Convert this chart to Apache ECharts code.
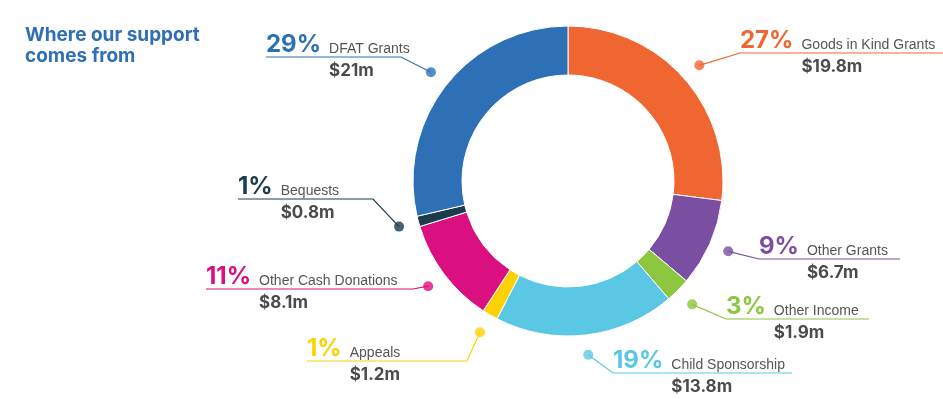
<!DOCTYPE html>
<html>
<head>
<meta charset="utf-8">
<script src="https://cdn.jsdelivr.net/npm/echarts@6/dist/echarts.min.js"></script>
<style>
  html, body { margin: 0; padding: 0; background: #fff; }
  #chart { width: 943px; height: 399px; }
</style>
</head>
<body>
<div id="chart"></div>
<script>
// slices, clockwise from 12 o'clock
const categories = ['Goods in Kind Grants', 'Other Grants', 'Other Income', 'Child Sponsorship',
  'Appeals', 'Other Cash Donations', 'Bequests', 'DFAT Grants']
const amounts = [19.8, 6.7, 1.9, 13.8, 1.2, 8.1, 0.8, 21]
const percentLabels = ['27%', '9%', '3%', '19%', '1%', '11%', '1%', '29%']

const colors = ['#f06630', '#7a4fa1', '#8dc63f', '#5ac8e5', '#fdd104', '#da0f80', '#1c3b4f', '#2d70b6']

// underline under each label: [left x, right x, y] and which side of the ring it sits
const underlines = [[740, 943, 53], [759, 900, 259], [726, 869, 319], [613, 792, 373],
  [307, 467, 361], [206, 413, 289], [238, 373, 199], [266, 401, 57]]
const sides = ['right', 'right', 'right', 'right', 'left', 'left', 'left', 'left']

const center = [568, 181]
const total = amounts.reduce((a, b) => a + b, 0)

// middle of each slice, in the same units as the amounts
const mids = []
let acc = 0
amounts.forEach(v => { mids.push(acc + v / 2); acc += v })

const chart = echarts.init(document.getElementById('chart'))

const rich = {
  gap: {width: 8},
  name: {fontFamily: 'Liberation Sans', fontSize: 14, color: '#555', lineHeight: 20, verticalAlign: 'bottom'},
  val: {fontFamily: 'Inter', fontSize: 17, fontWeight: 'bold', color: '#4b4b4d', lineHeight: 28}
}
colors.forEach((c, i) => {
  rich['p' + i] = {fontFamily: 'Inter', fontSize: 24, fontWeight: 'bold', color: c, lineHeight: 27, verticalAlign: 'bottom'}
  rich['g' + i] = {fontFamily: 'Inter', fontSize: 24, fontWeight: 'bold', color: 'rgba(0,0,0,0)', lineHeight: 27}
})

const option = {
  animation: false,
  title: {
    text: 'Where our support\ncomes from',
    left: 20,
    top: 20,
    textStyle: {fontFamily: 'Inter', fontSize: 19, fontWeight: 'bold', color: '#2f6fb8', lineHeight: 21}
  },
  polar: {center: center, radius: 175},
  angleAxis: {type: 'value', min: 0, max: total, startAngle: 90, clockwise: true, show: false},
  radiusAxis: {type: 'value', min: 0, max: 1, show: false},
  series: [
    {
      type: 'pie',
      center: center,
      radius: [106, 155],
      startAngle: 90,
      label: {show: false},
      labelLine: {show: false},
      itemStyle: {borderColor: '#fff', borderWidth: 1},
      data: categories.map((name, i) => ({name: name, value: amounts[i], itemStyle: {color: colors[i]}}))
    },
    {
      // invisible ring at the dots' radius, only carries the labels
      type: 'pie',
      center: center,
      radius: [174, 175],
      startAngle: 90,
      silent: true,
      avoidLabelOverlap: false,
      itemStyle: {color: 'rgba(0,0,0,0)'},
      label: {
        show: true,
        position: 'outside',
        formatter: p => {
          const i = p.dataIndex
          return '{p' + i + '|' + percentLabels[i] + '}{gap|}{name|' + p.name + '}\n' +
            '{g' + i + '|' + percentLabels[i] + '}{gap|}{val|$' + p.value + 'm}'
        },
        rich: rich
      },
      labelLine: {show: true, length: 10, length2: 10, lineStyle: {width: 1.2}},
      labelLayout: function (params) {
        const i = params.dataIndex
        const u = underlines[i]
        let start = params.labelLinePoints && params.labelLinePoints[0]
        if (!start) {
          const a = (90 - mids[i] / total * 360) * Math.PI / 180
          start = [center[0] + 175 * Math.cos(a), center[1] - 175 * Math.sin(a)]
        }
        const elbowX = sides[i] === 'right' ? u[0] : u[1]
        const endX = sides[i] === 'right' ? u[1] : u[0]
        return {
          x: u[0],
          y: u[2],
          align: 'left',
          verticalAlign: 'middle',
          labelLinePoints: [start, [elbowX, u[2]], [endX, u[2]]]
        }
      },
      data: categories.map((name, i) => ({
        name: name,
        value: amounts[i],
        labelLine: {lineStyle: {color: colors[i]}}
      }))
    },
    {
      type: 'scatter',
      coordinateSystem: 'polar',
      symbolSize: 10,
      silent: true,
      data: mids.map((m, i) => ({value: [1, m], itemStyle: {color: colors[i]}}))
    }
  ]
}

chart.setOption(option)
window.addEventListener('resize', () => chart.resize())
</script>
</body>
</html>
